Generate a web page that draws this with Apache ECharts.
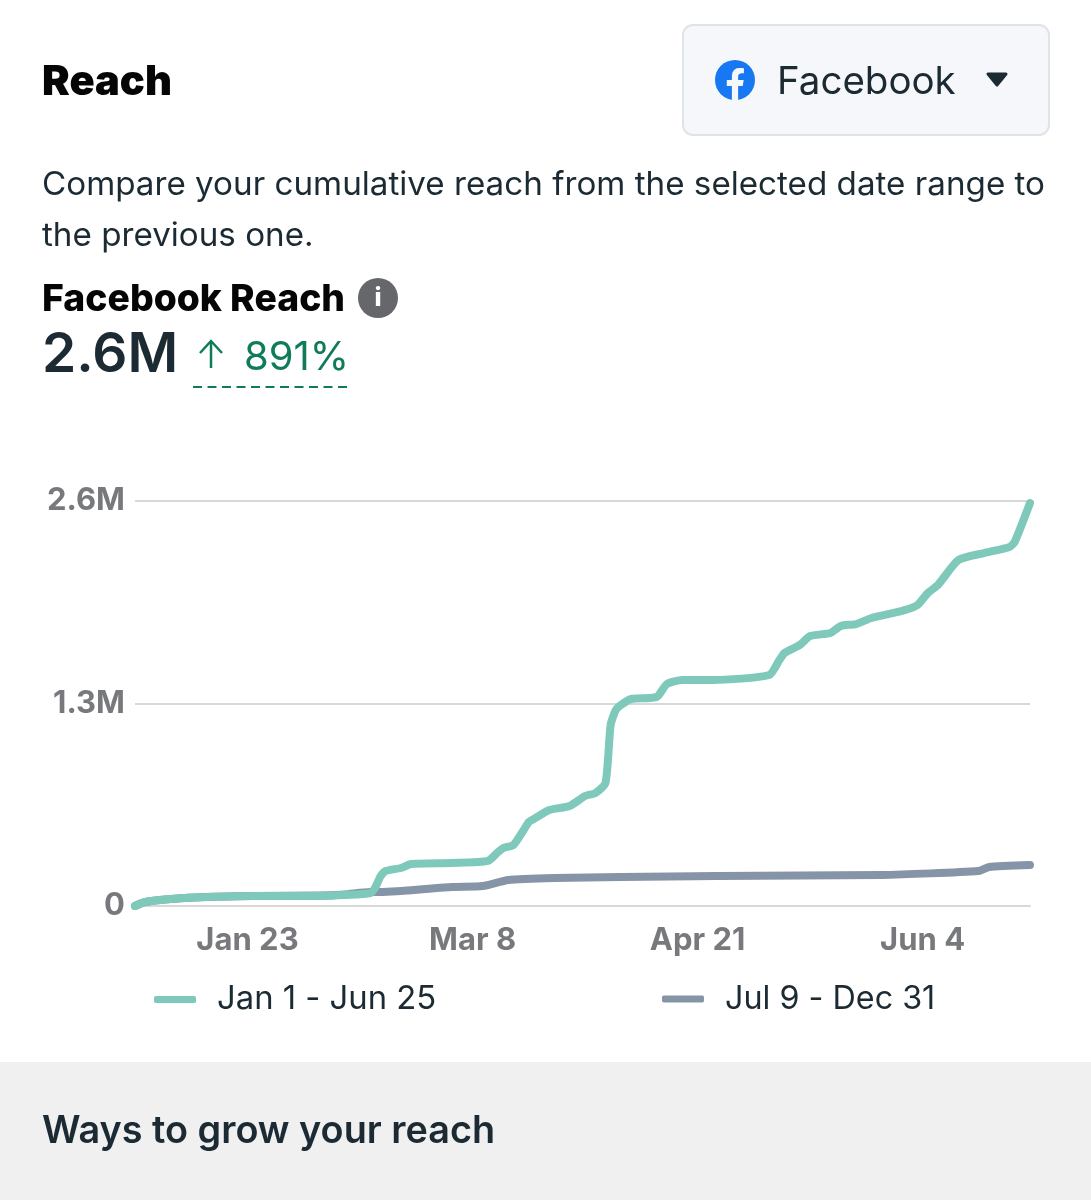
<!DOCTYPE html>
<html><head><meta charset="utf-8">
<style>html,body{margin:0;padding:0;background:#fff}#c{width:1091px;height:1200px}</style>
<script src="https://cdn.jsdelivr.net/npm/echarts@6/dist/echarts.min.js"></script>
</head><body><div id="c"></div>
<script>
const currentName = 'Jan 1 - Jun 25';
const previousName = 'Jul 9 - Dec 31';
const currentDays = [0,2,7,14,23,36,41,46,47,48,49,52,54,62,69,71,72,74,76,77,78,81,85,88,90,92,93,94,95,97,102,104,107,113,124,126,127,130,132,136,138,141,144,150,153,155,157,161,166,171,172,175];
const currentReach = [0,26000,45000,58000,64000,65000,71000,83000,120000,190000,225000,244000,270000,276000,289000,347000,372000,392000,488000,539000,559000,616000,642000,706000,725000,790000,1162000,1258000,1290000,1329000,1342000,1425000,1451000,1451000,1483000,1579000,1624000,1676000,1733000,1753000,1798000,1810000,1849000,1894000,1932000,2009000,2061000,2221000,2266000,2305000,2337000,2587000];
const previousDays = [0,2,7,14,23,36,41,46,48,62,68,73,82,95,114,146,165,167,175];
const previousReach = [0,26000,45000,58000,64000,67000,74000,90000,90000,122000,128000,167000,180000,186000,193000,199000,225000,250000,263000];
const xTickDays = [22,66,110,154];
const xTickLabels = ['Jan 23','Mar 8','Apr 21','Jun 4'];
const yTicks = {0:'0',1300000:'1.3M',2600000:'2.6M'};
const pair = (d,v)=>d.map((x,i)=>[x,v[i]]);
const UI = 'Inter, "Noto Sans", sans-serif';
const dark = '#1c2b33';
const t = (x,y,text,size,weight,fill,extra)=>({type:'text',x,y,style:Object.assign({text,fill,font:`${weight} ${size}px ${UI}`,verticalAlign:'middle'},extra||{}),silent:true});
const fGlyph = [[10.125,24],[10.125,15.542],[7.078,15.542],[7.078,12.072],[10.125,12.072],[10.125,9.43],[10.5,7.4],[11.6,5.9],[13,5],[14.658,4.761],[16,4.8],[17.344,4.996],[17.344,7.949],[15.83,7.949],[14.8,8.2],[14.1,8.9],[13.874,9.823],[13.874,12.073],[17.202,12.073],[16.67,15.543],[13.874,15.543],[13.874,24]].map(p=>[715+p[0]*40/24,60+p[1]*40/24]);
const chart = echarts.init(document.getElementById('c'),null,{renderer:'canvas'});
chart.setOption({
  animation:false,
  backgroundColor:'#fff',
  grid:{left:135,right:61,top:501,bottom:294,containLabel:false},
  legend:[
    {data:[currentName],left:149,top:978,itemWidth:42,itemHeight:7,icon:'roundRect',textStyle:{color:dark,fontFamily:UI,fontSize:32.8,padding:[0,0,0,16]}},
    {data:[previousName],left:657,top:978,itemWidth:42,itemHeight:7,icon:'roundRect',textStyle:{color:dark,fontFamily:UI,fontSize:32.3,padding:[0,0,0,16]}}
  ],
  xAxis:{type:'value',min:0,max:175,
    axisLine:{show:true,lineStyle:{color:'#d9d9d9',width:2}},axisTick:{show:false},splitLine:{show:false},
    axisLabel:{customValues:xTickDays,formatter:v=>xTickLabels[xTickDays.indexOf(v)]||'',color:'#77797c',fontFamily:UI,fontWeight:700,fontSize:31,margin:19,hideOverlap:false}},
  yAxis:{type:'value',min:0,max:2600000,interval:1300000,
    axisLine:{show:false},axisTick:{show:false},splitLine:{lineStyle:{color:'#d9d9d9',width:2}},
    axisLabel:{formatter:v=>yTicks[v],color:'#77797c',fontFamily:UI,fontWeight:700,fontSize:31,margin:10,padding:[0,0,6,0]}},
  series:[
    {name:previousName,type:'line',data:pair(previousDays,previousReach),showSymbol:false,smooth:0.2,z:2,lineStyle:{color:'#8694a8',width:8,cap:'round',join:'round'},itemStyle:{color:'#8694a8'}},
    {name:currentName,type:'line',data:pair(currentDays,currentReach),showSymbol:false,smooth:0.2,z:3,lineStyle:{color:'#7fc9ba',width:8,cap:'round',join:'round'},itemStyle:{color:'#7fc9ba'}}
  ],
  graphic:{elements:[
    t(42,82,'Reach',41.6,900,'#050505'),
    {type:'rect',shape:{x:683,y:25,width:366,height:110,r:10},style:{fill:'#f5f7fa',stroke:'#e0e3e7',lineWidth:2},silent:true},
    {type:'circle',shape:{cx:735,cy:80,r:20},style:{fill:'#1877f2'},silent:true},
    {type:'polygon',shape:{points:fGlyph},style:{fill:'#f5f7fa'},silent:true},
    t(777,82,'Facebook',38.5,400,dark),
    {type:'polygon',shape:{points:[[988,74],[1006,74],[997,85]]},style:{fill:dark,stroke:dark,lineWidth:3,lineJoin:'round'},silent:true},
    t(42,185,'Compare your cumulative reach from the selected date range to',33.2,400,dark),
    t(42,236,'the previous one.',33.2,400,dark),
    t(42,300,'Facebook Reach',37.3,800,'#050505'),
    {type:'circle',shape:{cx:378,cy:298,r:20},style:{fill:'#65676b'},silent:true},
    t(378,298,'i',25,800,'#fff',{align:'center'}),
    t(42,355,'2.6M',55,600,dark),
    {type:'polyline',shape:{points:[[211,368],[211,341]]},style:{stroke:'#0f7b5a',lineWidth:2.5,fill:null},silent:true},
    {type:'polyline',shape:{points:[[200,353],[211,341],[222,353]]},style:{stroke:'#0f7b5a',lineWidth:2.5,fill:null},silent:true},
    t(244,358,'891%',40,400,'#0f7b5a'),
    {type:'line',shape:{x1:193,y1:387,x2:347,y2:387},style:{stroke:'#0f7b5a',lineWidth:2,lineDash:[9,5.5]},silent:true},
    {type:'rect',shape:{x:0,y:1062,width:1091,height:138},style:{fill:'#f0f0f1'},silent:true},
    t(42,1132,'Ways to grow your reach',37.8,600,dark)
  ]}
});
</script></body></html>
